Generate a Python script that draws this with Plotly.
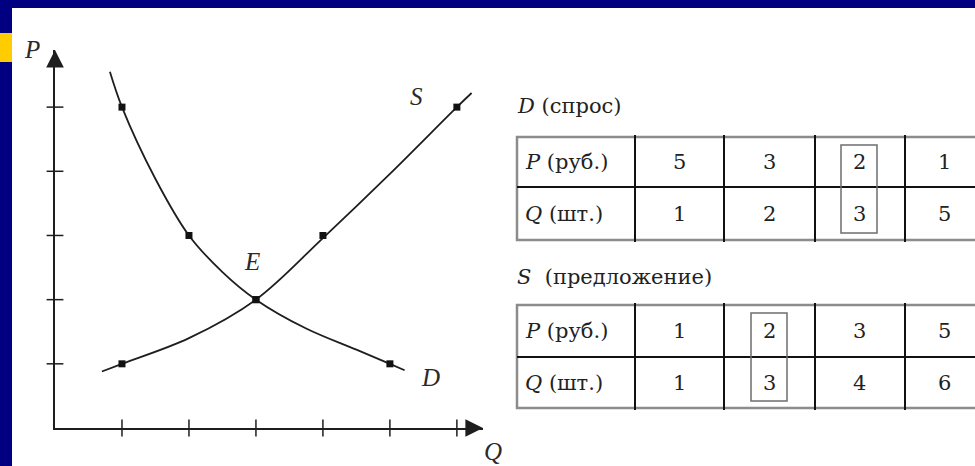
import plotly.graph_objects as go

W, H = 975, 466

# demand / supply schedules (from the tables)
D_PRICE = [5, 3, 2, 1]
D_QTY = [1, 2, 3, 5]
S_PRICE = [1, 2, 3, 5]
S_QTY = [1, 3, 4, 6]
EQ_PRICE, EQ_QTY = 2, 3

# the hand-drawn curves (table points included)
D_CURVE_Q = [0.82, 1, 1.5, 2, 2.5, 3, 3.75, 4.5, 5, 5.22]
D_CURVE_P = [5.55, 5, 3.88, 3, 2.43, 2, 1.55, 1.22, 1, 0.9]
S_CURVE_Q = [0.70, 1, 2, 3, 4, 5, 6, 6.22]
S_CURVE_P = [0.88, 1, 1.4, 2, 2.96, 3.96, 5, 5.22]

TICKS_Q = [1, 2, 3, 4, 5, 6]
TICKS_P = [1, 2, 3, 4, 5]
Q_MAX, P_MAX = 6.39, 5.89

ROW_LABELS = ["<i>P</i> (руб.)", "<i>Q</i> (шт.)"]
D_TITLE = "<i>D</i> (спрос)"
S_TITLE = "<i>S</i>  (предложение)"

INK = "#1e1e1e"
SERIF = "Liberation Serif"
TBL_FONT = dict(family="DejaVu Serif", size=21, color="#222")


def px(x):
    return x / W


def py(y):
    return 1 - y / H


fig = go.Figure()

# curves
for qs, ps in [(D_CURVE_Q, D_CURVE_P), (S_CURVE_Q, S_CURVE_P)]:
    fig.add_trace(go.Scatter(x=qs, y=ps, mode="lines", line=dict(color=INK, width=1.8, shape="spline", smoothing=1),
                             hoverinfo="skip", showlegend=False))
# dots
fig.add_trace(go.Scatter(x=D_QTY + S_QTY, y=D_PRICE + S_PRICE, mode="markers",
                         marker=dict(symbol="square", size=7, color="#111"), showlegend=False, cliponaxis=False))
# crossing ticks on both axes
fig.add_trace(go.Scatter(x=TICKS_Q, y=[0] * len(TICKS_Q), mode="markers", cliponaxis=False, showlegend=False,
                         marker=dict(symbol="line-ns-open", size=12, color=INK, line=dict(color=INK, width=1.5))))
fig.add_trace(go.Scatter(x=[0] * len(TICKS_P), y=TICKS_P, mode="markers", cliponaxis=False, showlegend=False,
                         marker=dict(symbol="line-ew-open", size=12, color=INK, line=dict(color=INK, width=1.5))))

shapes = [
    dict(type="rect", xref="paper", yref="paper", x0=px(12), x1=1, y0=0, y1=py(8), fillcolor="white", line_width=0, layer="below"),
    dict(type="rect", xref="paper", yref="paper", x0=0, x1=px(12), y0=py(62), y1=py(33), fillcolor="#ffcc00", line_width=0, layer="below"),
]
annots = []

# axis arrows
annots.append(dict(x=0, y=P_MAX, ax=0, ay=16, xref="x", yref="y", axref="pixel", ayref="pixel", text="", showarrow=True,
                   arrowhead=2, arrowsize=2.2, arrowwidth=1.6, arrowcolor=INK))
annots.append(dict(x=Q_MAX, y=0, ax=-16, ay=0, xref="x", yref="y", axref="pixel", ayref="pixel", text="", showarrow=True,
                   arrowhead=2, arrowsize=2.2, arrowwidth=1.6, arrowcolor=INK))

lab = dict(family=SERIF, size=25, color="#2a2a2a")
for txt, x, y in [("P", 32, 50), ("Q", 493, 451)]:
    annots.append(dict(x=px(x), y=py(y), xref="paper", yref="paper", xanchor="center", yanchor="middle",
                       text=f"<i>{txt}</i>", showarrow=False, font=lab))
for txt, q, p in [("S", 5.40, 5.16), ("D", 5.60, 0.78), ("E", 2.94, 2.59)]:
    annots.append(dict(x=q, y=p, xref="x", yref="y", xanchor="center", yanchor="middle",
                       text=f"<i>{txt}</i>", showarrow=False, font=lab))

# tables
COL_X = [517, 635, 724, 815, 905, 1000]
CENTERS = [679, 769, 859, 944]


def cell(x, y, text, anchor="center"):
    annots.append(dict(x=px(x), y=py(y), xref="paper", yref="paper", xanchor=anchor, yanchor="middle",
                       text=text, showarrow=False, font=TBL_FONT))


def draw_table(top, mid, bottom, title_y, title, prices, qtys):
    cell(515, title_y, title, "left")
    shapes.append(dict(type="rect", xref="paper", yref="paper", x0=px(COL_X[0]), x1=px(COL_X[-1]), y0=py(bottom), y1=py(top),
                       line=dict(color="#8c8c8c", width=2.5)))
    shapes.append(dict(type="line", xref="paper", yref="paper", x0=px(COL_X[0]), x1=px(COL_X[-1]), y0=py(mid), y1=py(mid),
                       line=dict(color="#111", width=2)))
    for cx in COL_X[1:-1]:
        shapes.append(dict(type="line", xref="paper", yref="paper", x0=px(cx), x1=px(cx), y0=py(bottom + 2), y1=py(top - 2),
                           line=dict(color="#111", width=2)))
    rows = [(top + mid) / 2, (mid + bottom) / 2]
    for r, label in zip(rows, ROW_LABELS):
        cell(523, r, label, "left")
    for i, (p, q) in enumerate(zip(prices, qtys)):
        cell(CENTERS[i], rows[0], str(p))
        cell(CENTERS[i], rows[1], str(q))
        if p == EQ_PRICE and q == EQ_QTY:
            shapes.append(dict(type="rect", xref="paper", yref="paper", x0=px(CENTERS[i] - 18), x1=px(CENTERS[i] + 18),
                               y0=py(bottom - 7), y1=py(top + 8), line=dict(color="#6e6e6e", width=1.5)))


draw_table(137, 187, 240, 106, D_TITLE, D_PRICE, D_QTY)
draw_table(305, 357, 408, 277, S_TITLE, S_PRICE, S_QTY)

fig.update_layout(
    width=W, height=H, margin=dict(l=0, r=0, t=0, b=0),
    paper_bgcolor="#000080", plot_bgcolor="white",
    shapes=shapes, annotations=annots,
    xaxis=dict(domain=[px(55), px(483)], range=[0, Q_MAX], showline=True, linecolor=INK, linewidth=1.8,
               showgrid=False, zeroline=False, showticklabels=False, ticks=""),
    yaxis=dict(domain=[py(428), py(50)], range=[0, P_MAX], showline=True, linecolor=INK, linewidth=1.8,
               showgrid=False, zeroline=False, showticklabels=False, ticks=""),
)

# the page body has a default 8px margin; drop it so the figure fills the window
fig.write_html("out.html", config={"displayModeBar": False}, post_script="document.body.style.margin='0';")
